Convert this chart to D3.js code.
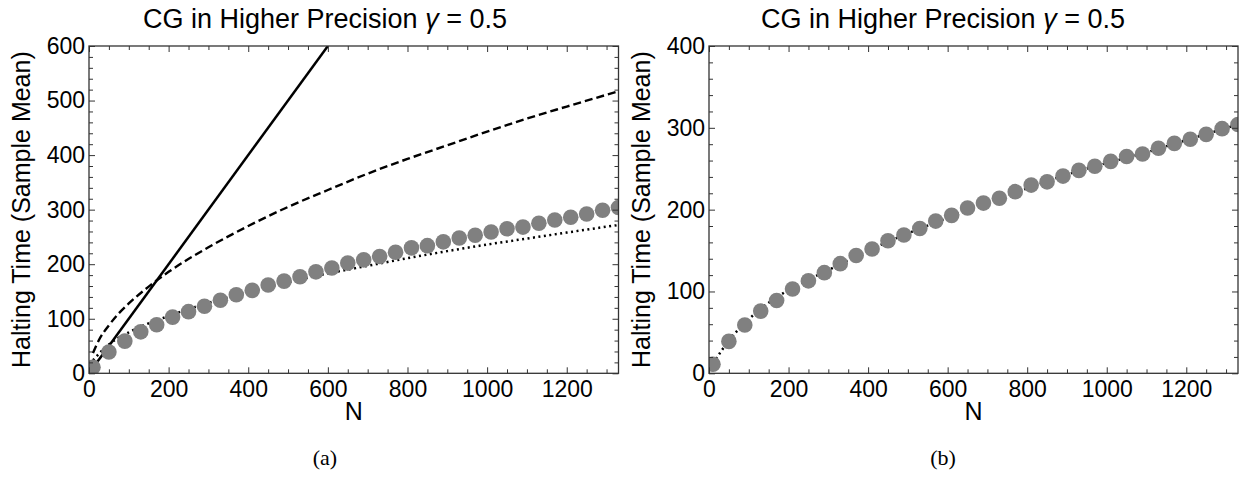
<!DOCTYPE html>
<html><head><meta charset="utf-8">
<script src="https://cdn.jsdelivr.net/npm/d3@7"></script>
<style>body{margin:0;background:#fff}svg{display:block}</style>
</head><body>
<svg id="c" width="1244" height="485"></svg>
<script>
// ---- data ----
const sampleN = [10,50,90,130,170,210,250,290,330,370,410,450,490,530,570,610,650,690,730,770,810,850,890,930,970,1010,1050,1090,1130,1170,1210,1250,1290,1330];
const haltingMean = [11,39,59,76,89,103,113,123,134,144,152,162,169,177,186,193,202,208,214,222,230,234,241,248,253,259,265,268,275,281,286,292,299,304];

const linearN = [10,600];
const linearV = [10,600];

const dashedN = [10,25,50,75,100,150,200,300,400,500,600,700,800,900,1000,1100,1200,1330];
const dashedV = [37,61,88,110,128,159,186,231,270,305,336,366,393,418,443,467,489,517];

const dottedN = [10,50,100,200,300,400,500,600,700,800,900,1000,1100,1200,1330];
const dottedV = [24,53,75,105,129,149,167,183,197,211,224,236,247,258,272];

const fitN = [10,50,100,200,300,400,500,600,700,800,900,1000,1100,1200,1330];
const fitV = [12,40,66,102,126,150,171,190,209,226,243,257,270,285,304];

const xTicks = [0,200,400,600,800,1000,1200];
const yTicksA = [0,100,200,300,400,500,600];
const yTicksB = [0,100,200,300,400];
const titleMain = "CG in Higher Precision ";
const titleGamma = "γ";
const titleRest = " = 0.5";
const yLabel = "Halting Time (Sample Mean)";
const xLabel = "N";
const captions = ["(a)", "(b)"];

const svg = d3.select("#c");
const FONT = "'Liberation Sans', Arial, Helvetica, sans-serif";
const TOP = 46, BOTTOM = 373.3;

function panel(cfg) {
  const x = d3.scaleLinear().domain([0,1330]).range([cfg.x0, cfg.x1]);
  const y = d3.scaleLinear().domain([0,cfg.ymax]).range([BOTTOM, TOP]);
  const g = svg.append("g");
  const clipId = "clip" + cfg.id;
  svg.append("clipPath").attr("id", clipId).append("rect")
    .attr("x", cfg.x0).attr("y", TOP).attr("width", cfg.x1-cfg.x0).attr("height", BOTTOM-TOP);

  const plot = g.append("g").attr("clip-path", `url(#${clipId})`);
  const line = (ns, vs) => d3.line().curve(d3.curveMonotoneX).x((d,i)=>x(ns[i])).y((d,i)=>y(vs[i]))(ns);

  cfg.lines.forEach(l => {
    plot.append("path").attr("d", line(l.n, l.v)).attr("fill","none")
      .attr("stroke","#000").attr("stroke-width", l.w)
      .attr("stroke-dasharray", l.dash || null);
  });
  plot.selectAll("circle").data(sampleN).enter().append("circle")
    .attr("cx", d=>x(d)).attr("cy", (d,i)=>y(haltingMean[i])).attr("r", 7.8)
    .attr("fill", "#808080");

  const frameColor = "#333";
  const minorX = d3.range(0, 1331, 50);
  const minorY = d3.range(0, cfg.ymax+1, 20);
  const axes = [
    {fn: d3.axisBottom, s: x, t: `translate(0,${BOTTOM})`, minor: minorX, major: xTicks, lab: true},
    {fn: d3.axisTop, s: x, t: `translate(0,${TOP})`, minor: minorX, major: xTicks, lab: false},
    {fn: d3.axisLeft, s: y, t: `translate(${cfg.x0},0)`, minor: minorY, major: cfg.yTicks, lab: true},
    {fn: d3.axisRight, s: y, t: `translate(${cfg.x1},0)`, minor: minorY, major: cfg.yTicks, lab: false},
  ];
  axes.forEach(a => {
    const ag = g.append("g").attr("transform", a.t);
    ag.call(a.fn(a.s).tickValues(a.minor.filter(v=>!a.major.includes(v))).tickSize(-4).tickFormat(""));
    ag.select(".domain").remove();
    ag.selectAll(".tick line").attr("stroke", frameColor);
    const mg = g.append("g").attr("transform", a.t);
    mg.call(a.fn(a.s).tickValues(a.major).tickSize(-6).tickPadding(a.fn===d3.axisBottom? 7 : 4)
      .tickFormat(a.lab ? d3.format("d") : ""));
    mg.select(".domain").remove();
    mg.selectAll(".tick line").attr("stroke", frameColor);
    mg.selectAll("text").attr("font-family", FONT).attr("font-size", 23).attr("fill","#000");
  });
  g.append("rect").attr("x", cfg.x0).attr("y", TOP).attr("width", cfg.x1-cfg.x0).attr("height", BOTTOM-TOP)
    .attr("fill","none").attr("stroke", frameColor).attr("stroke-width", 1.3);

  const t = g.append("text").attr("x", cfg.tx).attr("y", 28).attr("text-anchor","middle")
    .attr("font-family", FONT).attr("font-size", 27).attr("fill","#000");
  t.append("tspan").text(titleMain);
  t.append("tspan").attr("font-style","italic").text(titleGamma);
  t.append("tspan").text(titleRest);

  g.append("text").attr("x", (cfg.x0+cfg.x1)/2).attr("y", 420).attr("text-anchor","middle")
    .attr("font-family", FONT).attr("font-size", 25).text(xLabel);
  g.append("text").attr("transform", `translate(${cfg.x0-59},${(TOP+BOTTOM)/2}) rotate(-90)`)
    .attr("text-anchor","middle").attr("font-family", FONT).attr("font-size", 25).text(yLabel);

  g.append("text").attr("x", cfg.tx).attr("y", 465).attr("text-anchor","middle")
    .attr("font-family", "'Liberation Serif', 'DejaVu Serif', serif").attr("font-size", 22).text(cfg.cap);
}

panel({id:"a", x0:89, x1:618.5, ymax:600, yTicks:yTicksA, tx:325, cap:captions[0],
  lines:[
    {n: linearN, v: linearV, w: 2.5},
    {n: dashedN, v: dashedV, w: 2.4, dash: "8,4"},
    {n: dottedN, v: dottedV, w: 2.5, dash: "2,3.5"}
  ]});
panel({id:"b", x0:709, x1:1238, ymax:400, yTicks:yTicksB, tx:943, cap:captions[1],
  lines:[
    {n: fitN, v: fitV, w: 2.5, dash: "2,3.5"}
  ]});
</script>
</body></html>
